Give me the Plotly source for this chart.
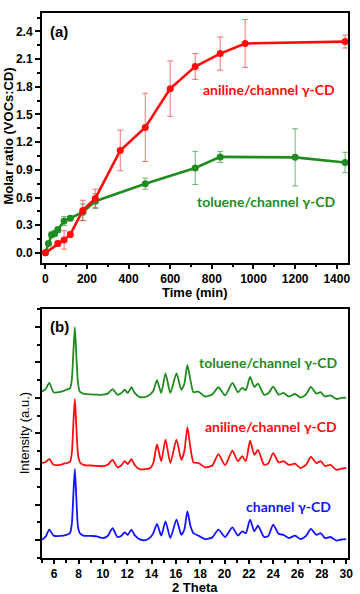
import plotly.graph_objects as go

# ---------------- (a) adsorption kinetics ----------------
aniline_time = [0, 60, 90, 120, 180, 240, 360, 480, 600, 720, 840, 960, 1440]
aniline_ratio = [0.0, 0.10, 0.14, 0.20, 0.46, 0.59, 1.11, 1.36, 1.78, 2.02, 2.16, 2.27, 2.29]
aniline_err = [0.02, 0.03, 0.10, 0.03, 0.11, 0.10, 0.22, 0.37, 0.30, 0.14, 0.18, 0.26, 0.07]

toluene_time = [0, 15, 30, 45, 60, 90, 120, 180, 240, 480, 720, 840, 1200, 1440]
toluene_ratio = [0.0, 0.10, 0.195, 0.21, 0.25, 0.345, 0.375, 0.44, 0.56, 0.75, 0.92, 1.04, 1.035, 0.98]
toluene_err = [0.01, 0.02, 0.03, 0.03, 0.03, 0.05, 0.02, 0.09, 0.08, 0.06, 0.18, 0.06, 0.31, 0.11]

time_ticks = [0, 200, 400, 600, 800, 1000, 1200, 1400]
ratio_ticks = [0.0, 0.3, 0.6, 0.9, 1.2, 1.5, 1.8, 2.1, 2.4]

# ---------------- (b) XRD patterns ----------------
two_theta = [5.0, 5.3, 5.6, 5.95, 6.5, 7.0, 7.3, 7.45, 7.58, 7.7, 7.82, 7.95, 8.1, 8.4, 9.0, 9.5,
             10.0, 10.4, 10.8, 11.2, 11.5, 11.8, 12.05, 12.35, 12.6, 13.0, 13.5, 13.9, 14.15,
             14.45, 14.8, 15.15, 15.55, 16.05, 16.45, 16.7, 16.95, 17.2, 17.45, 17.85, 18.4,
             19.0, 19.5, 20.05, 20.65, 21.1, 21.45, 21.75, 22.1, 22.45, 22.75, 23.25, 23.6,
             24.0, 24.45, 24.85, 25.3, 25.8, 26.25, 26.7, 27.1, 27.55, 27.9, 28.25, 28.7,
             29.2, 29.6, 30.0]

channel_cd = [0.01, 0.10, 0.30, 0.13, 0.12, 0.15, 0.20, 0.45, 1.30, 2.00, 1.20, 0.40, 0.20, 0.13,
              0.12, 0.11, 0.06, 0.12, 0.34, 0.09, 0.12, 0.22, 0.15, 0.30, 0.15, 0.03, 0.00, 0.08,
              0.20, 0.46, 0.13, 0.53, 0.06, 0.58, 0.15, 0.30, 0.81, 0.40, 0.20, 0.13, 0.03, 0.08,
              0.30, 0.09, 0.36, 0.13, 0.25, 0.20, 0.58, 0.25, 0.41, 0.09, 0.12, 0.44, 0.18, 0.15,
              0.06, 0.13, 0.03, 0.12, 0.32, 0.15, 0.20, 0.06, 0.09, -0.01, 0.02, 0.03]

aniline_cd = [2.17, 2.20, 2.28, 2.12, 2.12, 2.17, 2.20, 2.45, 3.30, 3.97, 3.20, 2.45, 2.20, 2.12,
              2.10, 2.09, 2.08, 2.12, 2.26, 2.05, 2.10, 2.22, 2.14, 2.28, 2.12, 2.00, 2.00, 2.03,
              2.17, 2.69, 2.22, 2.83, 2.17, 2.83, 2.26, 2.50, 3.18, 2.60, 2.19, 2.17, 2.05, 2.10,
              2.42, 2.11, 2.52, 2.22, 2.36, 2.22, 2.80, 2.40, 2.54, 2.12, 2.16, 2.45, 2.19, 2.22,
              2.12, 2.15, 2.03, 2.12, 2.34, 2.17, 2.22, 2.09, 2.12, 1.98, 2.01, 2.03]

toluene_cd = [4.18, 4.25, 4.42, 4.16, 4.17, 4.23, 4.27, 4.50, 5.30, 5.99, 5.20, 4.45, 4.18, 4.12,
              4.10, 4.09, 4.09, 4.12, 4.25, 4.09, 4.13, 4.23, 4.14, 4.30, 4.15, 4.03, 4.03, 4.10,
              4.20, 4.50, 4.14, 4.69, 4.14, 4.69, 4.23, 4.40, 4.93, 4.50, 4.16, 4.18, 4.04, 4.10,
              4.30, 4.07, 4.42, 4.16, 4.28, 4.22, 4.59, 4.31, 4.40, 4.09, 4.13, 4.32, 4.09, 4.14,
              4.04, 4.11, 4.01, 4.10, 4.31, 4.12, 4.16, 4.04, 4.07, 3.97, 4.00, 4.01]

theta_ticks = [6, 8, 10, 12, 14, 16, 18, 20, 22, 24, 26, 28, 30]

RED = "#ff0d0d"
GREEN = "#1f8c1f"
BLUE = "#1414ff"
TICKFONT = dict(family="Liberation Sans, Arial", size=12, color="black", weight="bold")
LABFONT = "Lato, Open Sans, sans-serif"

fig = go.Figure()

fig.add_trace(go.Scatter(
    x=toluene_time, y=toluene_ratio, mode="lines+markers", xaxis="x", yaxis="y",
    line=dict(color=GREEN, width=2.6), marker=dict(color=GREEN, size=7),
    error_y=dict(type="data", array=toluene_err, color="rgba(60,160,60,0.75)", thickness=1, width=3),
    showlegend=False))
fig.add_trace(go.Scatter(
    x=aniline_time, y=aniline_ratio, mode="lines+markers", xaxis="x", yaxis="y",
    line=dict(color=RED, width=2.6), marker=dict(color=RED, size=7),
    error_y=dict(type="data", array=aniline_err, color="rgba(240,70,70,0.75)", thickness=1, width=3),
    showlegend=False))

for yv, col in [(toluene_cd, GREEN), (aniline_cd, RED), (channel_cd, BLUE)]:
    fig.add_trace(go.Scatter(x=two_theta, y=yv, mode="lines", xaxis="x2", yaxis="y2",
                             line=dict(color=col, width=1.8, shape="spline", smoothing=0.6),
                             showlegend=False))

common = dict(showline=True, linewidth=2, linecolor="black", showgrid=False, zeroline=False,
              tickcolor="black", tickwidth=1.5, tickfont=TICKFONT)
frac_axis = dict(range=[0, 10], tickvals=[1, 2, 3, 4, 5, 6, 7, 8, 9], ticks="inside", ticklen=3,
                 tickwidth=1.5, tickcolor="black", showticklabels=False, showgrid=False,
                 zeroline=False, showline=False)

TOP_A = 1.0
BOT_A = 0.5413
TOP_B = 0.4569

fig.update_layout(
    width=360, height=594,
    margin=dict(l=42, r=7, t=13, b=36),
    paper_bgcolor="white", plot_bgcolor="white",
    xaxis=dict(domain=[0, 1], anchor="y", range=[-16, 1454], tickvals=time_ticks,
               ticks="outside", ticklen=4, mirror=True,
               minor=dict(ticks="outside", ticklen=2.5, tickvals=[100, 300, 500, 700, 900, 1100, 1300],
                          tickcolor="black", tickwidth=1.5),
               **common),
    yaxis=dict(domain=[BOT_A, TOP_A], anchor="x", range=[-0.11, 2.6], tickvals=ratio_ticks,
               tickformat=".1f", ticks="outside", ticklen=5, mirror=True,
               minor=dict(ticks="outside", ticklen=3, dtick=0.15, tick0=0.15,
                          tickcolor="black", tickwidth=1.5),
               **common),
    xaxis3=dict(overlaying="x", anchor="y", side="top", **frac_axis),
    yaxis3=dict(overlaying="y", anchor="x", side="right", **frac_axis),
    xaxis2=dict(domain=[0, 1], anchor="y2", range=[5, 30.15], tickvals=theta_ticks,
                ticks="outside", ticklen=4, mirror=True,
                minor=dict(ticks="outside", ticklen=2.5, dtick=1, tick0=5,
                           tickcolor="black", tickwidth=1.5),
                **common),
    yaxis2=dict(domain=[0, TOP_B], anchor="x2", range=[-0.5, 6.5], tickvals=[0, 1, 2, 3, 4, 5, 6],
                showticklabels=False, ticks="outside", ticklen=5, mirror=True,
                minor=dict(ticks="outside", ticklen=3, dtick=0.5, tick0=0.5,
                           tickcolor="black", tickwidth=1.5),
                **common),
    xaxis4=dict(overlaying="x2", anchor="y2", side="top", **frac_axis),
    yaxis4=dict(overlaying="y2", anchor="x2", side="right", **frac_axis),
)

bold = dict(family="Liberation Sans, Arial", color="black", weight="bold")
ann = [
    dict(text="(a)", x=48, y=31, font=dict(size=15, **bold)),
    dict(text="(b)", x=48, y=326, font=dict(size=15, **bold)),
    dict(text="Time (min)", x=197.5, y=292, font=dict(size=13, **bold)),
    dict(text="2 Theta", x=197.5, y=587.5, font=dict(size=13, **bold)),
    dict(text="Molar ratio (VOCs:CD)", x=8, y=136, textangle=-90, font=dict(size=13, **bold)),
    dict(text="Intensity (a.u.)", x=24, y=433, textangle=-90,
         font=dict(family="Liberation Sans, Arial", size=13, color="black")),
    dict(text="aniline/channel γ-CD", x=273, y=90, font=dict(family=LABFONT, size=14, color=RED, weight="bold")),
    dict(text="toluene/channel γ-CD", x=270, y=201, font=dict(family=LABFONT, size=14, color=GREEN, weight="bold")),
    dict(text="toluene/channel γ-CD", x=272, y=363, font=dict(family=LABFONT, size=14, color=GREEN, weight="bold")),
    dict(text="aniline/channel γ-CD", x=275, y=427, font=dict(family=LABFONT, size=14, color=RED, weight="bold")),
    dict(text="channel γ-CD", x=293, y=507, font=dict(family=LABFONT, size=14, color=BLUE, weight="bold")),
]
W, H = 360, 594
PL, PR, PT, PB = 42, 7, 13, 36
for a in ann:
    px, py = a.pop("x"), a.pop("y")
    a.update(xref="paper", yref="paper",
             x=(px - PL) / (W - PL - PR), y=(H - PB - py) / (H - PT - PB),
             showarrow=False, xanchor="center", yanchor="middle")
    if a["text"] in ("(a)", "(b)"):
        a["xanchor"] = "left"
    fig.add_annotation(**a)

fig.write_html("out.html")
